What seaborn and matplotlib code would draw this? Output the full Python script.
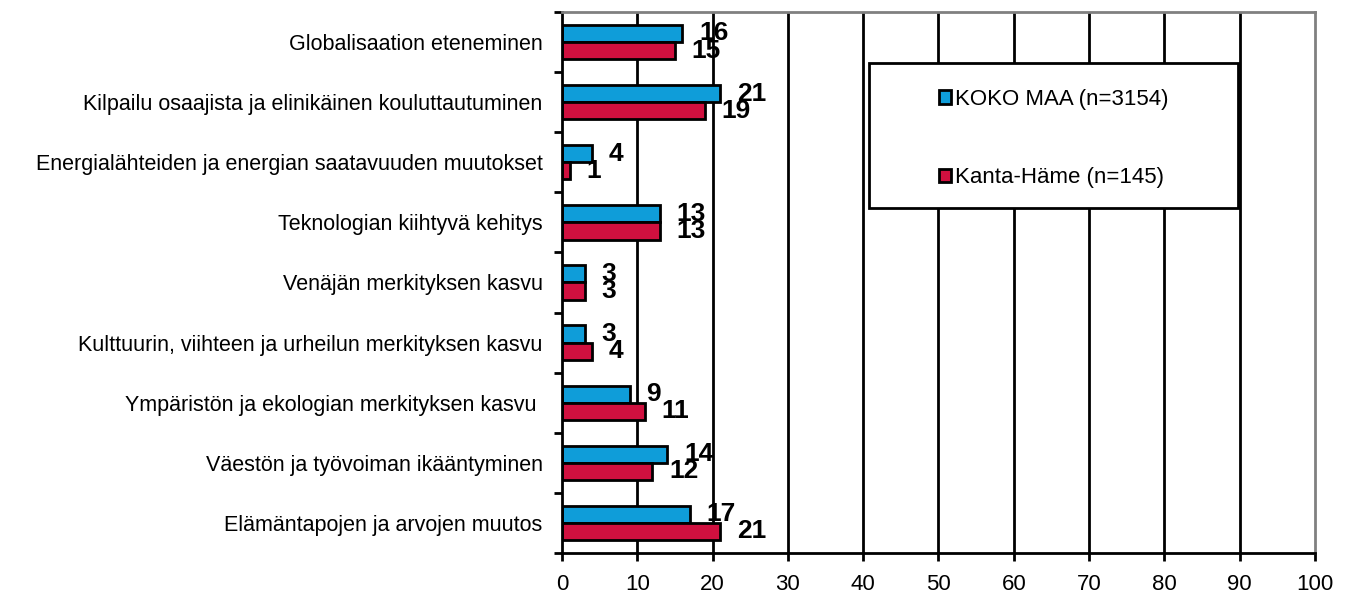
import pandas as pd
import matplotlib.pyplot as plt
import seaborn as sns
from matplotlib.patches import Patch, Rectangle

# Data (top to bottom as in the chart)
categories = [
    "Globalisaation eteneminen",
    "Kilpailu osaajista ja elinikäinen kouluttautuminen",
    "Energialähteiden ja energian saatavuuden muutokset",
    "Teknologian kiihtyvä kehitys",
    "Venäjän merkityksen kasvu",
    "Kulttuurin, viihteen ja urheilun merkityksen kasvu",
    "Ympäristön ja ekologian merkityksen kasvu ",
    "Väestön ja työvoiman ikääntyminen",
    "Elämäntapojen ja arvojen muutos",
]
koko_maa = [16, 21, 4, 13, 3, 3, 9, 14, 17]
kanta_hame = [15, 19, 1, 13, 3, 4, 11, 12, 21]
series_names = ["KOKO MAA (n=3154)", "Kanta-Häme (n=145)"]
colors = ["#0F9DD9", "#D0103F"]

df = pd.DataFrame({
    "kategoria": categories * 2,
    "arvo": koko_maa + kanta_hame,
    "sarja": [series_names[0]] * len(categories) + [series_names[1]] * len(categories),
})

sns.set_style("white")
plt.rcParams['font.family'] = ['Liberation Sans', 'DejaVu Sans']
plt.rcParams['text.color'] = 'black'
plt.rcParams['xtick.color'] = 'black'
plt.rcParams['ytick.color'] = 'black'

fig = plt.figure(figsize=(13.49, 6.06), dpi=100)
ax = fig.add_axes([0.4166, 0.0875, 0.5582, 0.8927])

sns.barplot(data=df, y="kategoria", x="arvo", hue="sarja", hue_order=series_names,
            order=categories, palette=colors, saturation=1, width=0.57,
            edgecolor="black", linewidth=2, legend=False, ax=ax)

# value labels
for cont in ax.containers:
    ax.bar_label(cont, padding=12, fontsize=19, fontweight='bold', color='black')

ax.set_xlim(0, 100)
ax.set_ylim(len(categories) - 0.5, -0.5)
ax.set_xticks(range(0, 101, 10))
ax.set_xlabel("")
ax.set_ylabel("")

# grid lines at every 10
for x in range(10, 100, 10):
    ax.axvline(x, color="black", lw=2, zorder=0)

# spines
for s in ["left", "bottom"]:
    ax.spines[s].set_color("black")
    ax.spines[s].set_linewidth(2)
for s in ["top", "right"]:
    ax.spines[s].set_color("#808080")
    ax.spines[s].set_linewidth(2)

ax.tick_params(axis="x", direction="out", length=6, width=2, pad=9,
               labelsize=16, bottom=True)
ax.tick_params(axis="y", which="major", length=0, pad=14, labelsize=15.5)
ax.set_yticks([i + 0.5 for i in range(-1, len(categories))], minor=True)
ax.tick_params(axis="y", which="minor", direction="out", length=6, width=2, left=True)

# legend box
box = Rectangle((0.408, 0.638), 0.49, 0.268, transform=ax.transAxes,
                facecolor="white", edgecolor="black", lw=2, zorder=4)
ax.add_patch(box)
handles = [Patch(facecolor=c, edgecolor="black", linewidth=2) for c in colors]
leg = ax.legend(handles, series_names, loc="center",
                bbox_to_anchor=(0.653, 0.766), fontsize=16, frameon=False,
                labelspacing=2.6, handlelength=0.55, handleheight=0.55,
                handletextpad=0.15, borderaxespad=0)
leg.set_zorder(5)

fig.savefig("out.png", dpi=100)
